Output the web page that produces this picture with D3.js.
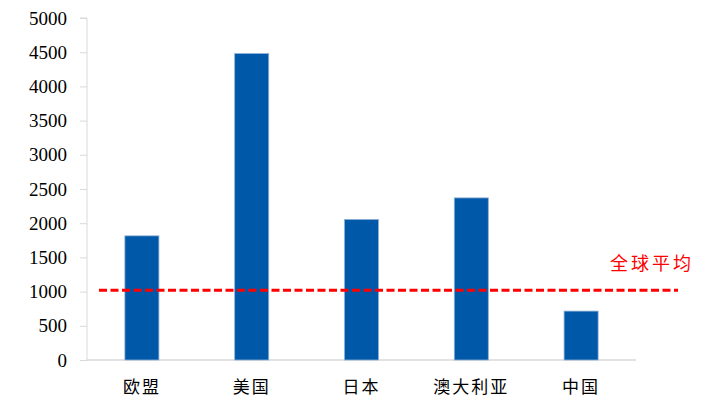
<!DOCTYPE html>
<html lang="zh">
<head>
    <meta charset="UTF-8">
    <title>人均数据对比</title>
    <script src="https://d3js.org/d3.v7.min.js"></script>
    <style>
        body { margin: 0; background: #fff; }
    </style>
</head>
<body>
<div id="chartArea"></div>
<script>
    // data
    const categories = ['欧盟', '美国', '日本', '澳大利亚', '中国'];
    const values = [1815, 4480, 2055, 2370, 715];
    const globalAvg = 1020;
    const globalLabel = '全球平均';
    const yTicks = [0, 500, 1000, 1500, 2000, 2500, 3000, 3500, 4000, 4500, 5000];

    const W = 718, H = 410;
    const margin = { left: 87, right: 82, top: 18, bottom: 50 };

    const svg = d3.select('#chartArea').append('svg')
        .attr('width', W)
        .attr('height', H);

    const x = d3.scaleBand()
        .domain(categories)
        .range([margin.left, W - margin.right])
        .paddingInner(0.69)
        .paddingOuter(0.345);

    const y = d3.scaleLinear()
        .domain([0, 5000])
        .range([H - margin.bottom, margin.top]);

    // y axis
    const yAxis = svg.append('g')
        .attr('transform', 'translate(' + margin.left + ',0)')
        .call(d3.axisLeft(y).tickValues(yTicks).tickFormat(d3.format('d')).tickSize(7).tickPadding(13));
    yAxis.selectAll('line, path').attr('stroke', '#d9d9d9');
    yAxis.select('.domain').attr('d', 'M-7,' + y(5000) + 'H0V' + y(0));
    yAxis.selectAll('text')
        .attr('fill', '#000')
        .style('font-family', '"Liberation Serif", "Times New Roman", serif')
        .style('font-size', '19px');

    // baseline
    svg.append('line')
        .attr('x1', margin.left).attr('x2', W - margin.right)
        .attr('y1', y(0)).attr('y2', y(0))
        .attr('stroke', '#d9d9d9')
        .attr('stroke-width', 1.5);

    // bars
    svg.selectAll('rect.bar')
        .data(values)
        .enter()
        .append('rect')
        .attr('class', 'bar')
        .attr('x', (d, i) => x(categories[i]))
        .attr('y', d => y(d))
        .attr('width', x.bandwidth())
        .attr('height', d => y(0) - y(d))
        .attr('fill', '#0058a8')
        .attr('stroke', '#8fb0d6')
        .attr('stroke-width', 0.8);

    // category labels
    svg.selectAll('text.cat')
        .data(categories)
        .enter()
        .append('text')
        .attr('class', 'cat')
        .attr('x', d => x(d) + x.bandwidth() / 2)
        .attr('y', y(0) + 33)
        .attr('text-anchor', 'middle')
        .attr('fill', '#000')
        .style('font-family', '"Noto Sans CJK SC", sans-serif')
        .style('font-size', '17px')
        .style('letter-spacing', '2px')
        .text(d => d);

    // global average line
    svg.append('line')
        .attr('x1', margin.left + 12).attr('x2', W - 40)
        .attr('y1', y(globalAvg)).attr('y2', y(globalAvg))
        .attr('stroke', '#ff0000')
        .attr('stroke-width', 3)
        .attr('stroke-dasharray', '8,3.5');

    svg.append('text')
        .attr('x', W - 24)
        .attr('y', y(globalAvg) - 20)
        .attr('text-anchor', 'end')
        .attr('fill', '#ff0000')
        .style('font-family', '"Noto Sans CJK SC", sans-serif')
        .style('font-size', '18px')
        .style('letter-spacing', '3px')
        .text(globalLabel);
</script>
</body>
</html>
